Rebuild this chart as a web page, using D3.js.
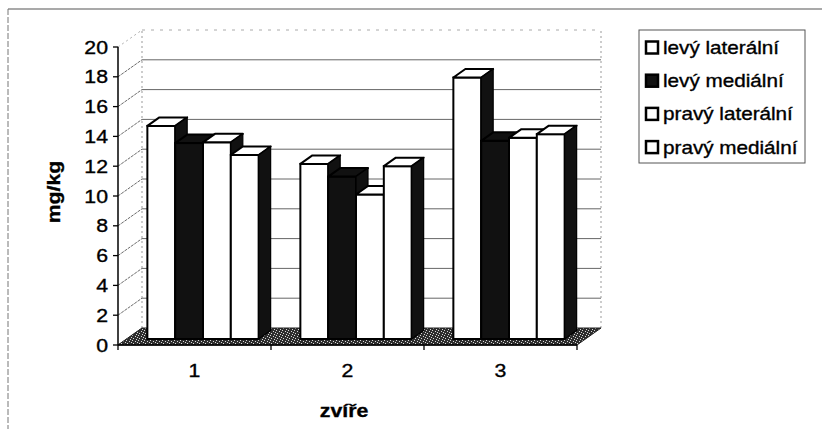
<!DOCTYPE html>
<html>
<head>
<meta charset="utf-8">
<script src="https://cdn.jsdelivr.net/npm/d3@7"></script>
<style>
  html, body { margin: 0; padding: 0; background: #fff; }
  svg { display: block; font-family: "Liberation Sans", Arial, sans-serif; }
  svg text { fill: #000; stroke: #000; stroke-width: 0.35px; }
</style>
</head>
<body>
<svg id="chart" width="822" height="429"></svg>
<script>
// Data
const categories = ["1", "2", "3"];
const seriesNames = ["levý laterální", "levý mediální", "pravý laterální", "pravý mediální"];
const levyLateralni = [14.3, 11.75, 17.55];
const levyMedialni = [13.15, 10.9, 13.3];
const pravyLateralni = [13.2, 9.7, 13.5];
const pravyMedialni = [12.35, 11.6, 13.75];
const yTicks = [0, 2, 4, 6, 8, 10, 12, 14, 16, 18, 20];

const seriesValues = [levyLateralni, levyMedialni, pravyLateralni, pravyMedialni];
const seriesFill = ["#fff", "#111", "#fff", "#fff"];

const svg = d3.select("#chart");

// scanned text is a bit wider than it is tall
const stretch = 1.15;

// plot geometry (front plane)
const plotLeft = 118, plotRight = 577, plotBottom = 345, plotTop = 47;
// depth of the floor / walls
const depth = { dx: 24, dy: -17 };
// where the bars sit inside the depth, and how deep they are
const barFront = { dx: 8.5, dy: -6 };
const barDepth = { dx: 12, dy: -8.5 };

const y = d3.scaleLinear().domain([0, 20]).range([plotBottom, plotTop]);
const x = d3.scaleBand().domain(categories).range([plotLeft, plotRight]).paddingInner(0).paddingOuter(0);
// 4 bars + gap 150% inside each category
const unit = x.bandwidth() / 5.5;

// speckled floor
const defs = svg.append("defs");
const pat = defs.append("pattern")
    .attr("id", "speckle")
    .attr("width", 6).attr("height", 5)
    .attr("patternUnits", "userSpaceOnUse");
pat.append("rect").attr("width", 6).attr("height", 5).attr("fill", "#2e2e2e");
[[0, 0], [3, 1], [1, 3], [4, 4], [5, 2]].forEach(([px, py]) => {
    pat.append("rect").attr("x", px).attr("y", py).attr("width", 1).attr("height", 1).attr("fill", "#d8d8d8");
});

// outer frame
svg.append("line").attr("x1", 8).attr("y1", 9).attr("x2", 822).attr("y2", 9)
    .attr("stroke", "#555").attr("stroke-width", 1.2);
svg.append("line").attr("x1", 8).attr("y1", 9).attr("x2", 8).attr("y2", 429)
    .attr("stroke", "#777").attr("stroke-width", 1).attr("stroke-dasharray", "6,2");

const bx0 = plotLeft + depth.dx, bx1 = plotRight + depth.dx;

// back wall gridlines
yTicks.forEach(v => {
    if (v === 0) return;
    const gy = y(v) + depth.dy;
    svg.append("line")
        .attr("x1", bx0).attr("x2", bx1).attr("y1", gy).attr("y2", gy)
        .attr("stroke", v === 20 ? "#aaa" : "#666")
        .attr("stroke-width", 1)
        .attr("stroke-dasharray", v === 20 ? "3,6" : null);
});

// back wall edges
[bx0, bx1].forEach(ex => {
    svg.append("line")
        .attr("x1", ex).attr("x2", ex)
        .attr("y1", y(0) + depth.dy).attr("y2", y(20) + depth.dy)
        .attr("stroke", "#999").attr("stroke-width", 1).attr("stroke-dasharray", "2,3");
});

// side wall diagonals
yTicks.forEach(v => {
    svg.append("line")
        .attr("x1", plotLeft).attr("y1", y(v))
        .attr("x2", plotLeft + depth.dx).attr("y2", y(v) + depth.dy)
        .attr("stroke", v === 20 ? "#999" : "#444")
        .attr("stroke-width", 0.8)
        .attr("stroke-dasharray", v === 20 ? "2,3" : "3,1");
});

// floor
const floorPts = [
    [plotLeft, y(0)], [plotRight, y(0)],
    [plotRight + depth.dx, y(0) + depth.dy], [plotLeft + depth.dx, y(0) + depth.dy]
];
svg.append("polygon")
    .attr("points", floorPts.map(p => p.join(",")).join(" "))
    .attr("fill", "url(#speckle)")
    .attr("stroke", "#222").attr("stroke-width", 1);

// bars
function barShapes(x0, w, h, fill) {
    const g = svg.append("g");
    const fx = x0 + barFront.dx;
    const baseY = y(0) + barFront.dy;
    const topY = y(h) + barFront.dy;
    // front
    g.append("rect")
        .attr("x", fx).attr("y", topY)
        .attr("width", w).attr("height", baseY - topY)
        .attr("fill", fill).attr("stroke", "#000").attr("stroke-width", 2);
    // top
    const topPts = [
        [fx, topY], [fx + w, topY],
        [fx + w + barDepth.dx, topY + barDepth.dy], [fx + barDepth.dx, topY + barDepth.dy]
    ];
    g.append("polygon")
        .attr("points", topPts.map(p => p.join(",")).join(" "))
        .attr("fill", fill).attr("stroke", "#000").attr("stroke-width", 2)
        .attr("stroke-linejoin", "round");
    // side
    const sidePts = [
        [fx + w, topY], [fx + w + barDepth.dx, topY + barDepth.dy],
        [fx + w + barDepth.dx, baseY + barDepth.dy], [fx + w, baseY]
    ];
    g.append("polygon")
        .attr("points", sidePts.map(p => p.join(",")).join(" "))
        .attr("fill", "#111").attr("stroke", "#000").attr("stroke-width", 1.2);
}

categories.forEach((c, ci) => {
    seriesValues.forEach((vals, si) => {
        const x0 = x(c) + unit * (0.75 + si);
        barShapes(x0, unit, vals[ci], seriesFill[si]);
    });
});

// y axis
svg.append("line").attr("x1", plotLeft).attr("x2", plotLeft).attr("y1", y(0)).attr("y2", y(20))
    .attr("stroke", "#000").attr("stroke-width", 1.5);
yTicks.forEach(v => {
    svg.append("line").attr("x1", plotLeft - 5).attr("x2", plotLeft).attr("y1", y(v)).attr("y2", y(v))
        .attr("stroke", "#000").attr("stroke-width", 1.3);
    svg.append("text")
        .attr("transform", `translate(${plotLeft - 10},${y(v) + 6.5}) scale(${stretch},1)`)
        .attr("text-anchor", "end")
        .attr("font-size", 18.5)
        .text(v);
});

// x axis
svg.append("line").attr("x1", plotLeft).attr("x2", plotRight).attr("y1", y(0)).attr("y2", y(0))
    .attr("stroke", "#000").attr("stroke-width", 1.5);
const boundaries = categories.map(c => x(c)).concat([plotRight]);
boundaries.forEach(bx => {
    svg.append("line").attr("x1", bx).attr("x2", bx).attr("y1", y(0)).attr("y2", y(0) + 5)
        .attr("stroke", "#000").attr("stroke-width", 1.3);
});
categories.forEach(c => {
    svg.append("text")
        .attr("transform", `translate(${x(c) + x.bandwidth() / 2},377) scale(${stretch},1)`)
        .attr("text-anchor", "middle")
        .attr("font-size", 18.5)
        .text(c);
});

// axis titles
svg.append("text")
    .attr("transform", `translate(344,417) scale(${stretch},1)`)
    .attr("text-anchor", "middle")
    .attr("font-size", 18.5)
    .attr("font-weight", "bold")
    .text("zvíře");
svg.append("text")
    .attr("transform", `translate(60,192) rotate(-90) scale(${stretch},1)`)
    .attr("text-anchor", "middle")
    .attr("font-size", 18.5)
    .attr("font-weight", "bold")
    .text("mg/kg");

// legend
const legend = svg.append("g");
legend.append("rect")
    .attr("x", 639).attr("y", 30).attr("width", 166).attr("height", 133)
    .attr("fill", "#fff").attr("stroke", "#555").attr("stroke-width", 1);
seriesNames.forEach((name, i) => {
    const cy = 47.5 + i * 33.2;
    legend.append("rect")
        .attr("x", 646).attr("y", cy - 6).attr("width", 12).attr("height", 12)
        .attr("fill", seriesFill[i]).attr("stroke", "#000").attr("stroke-width", 2.5);
    legend.append("text")
        .attr("transform", `translate(663,${cy + 6.5}) scale(${stretch},1)`)
        .attr("font-size", 18)
        .text(name);
});
</script>
</body>
</html>
